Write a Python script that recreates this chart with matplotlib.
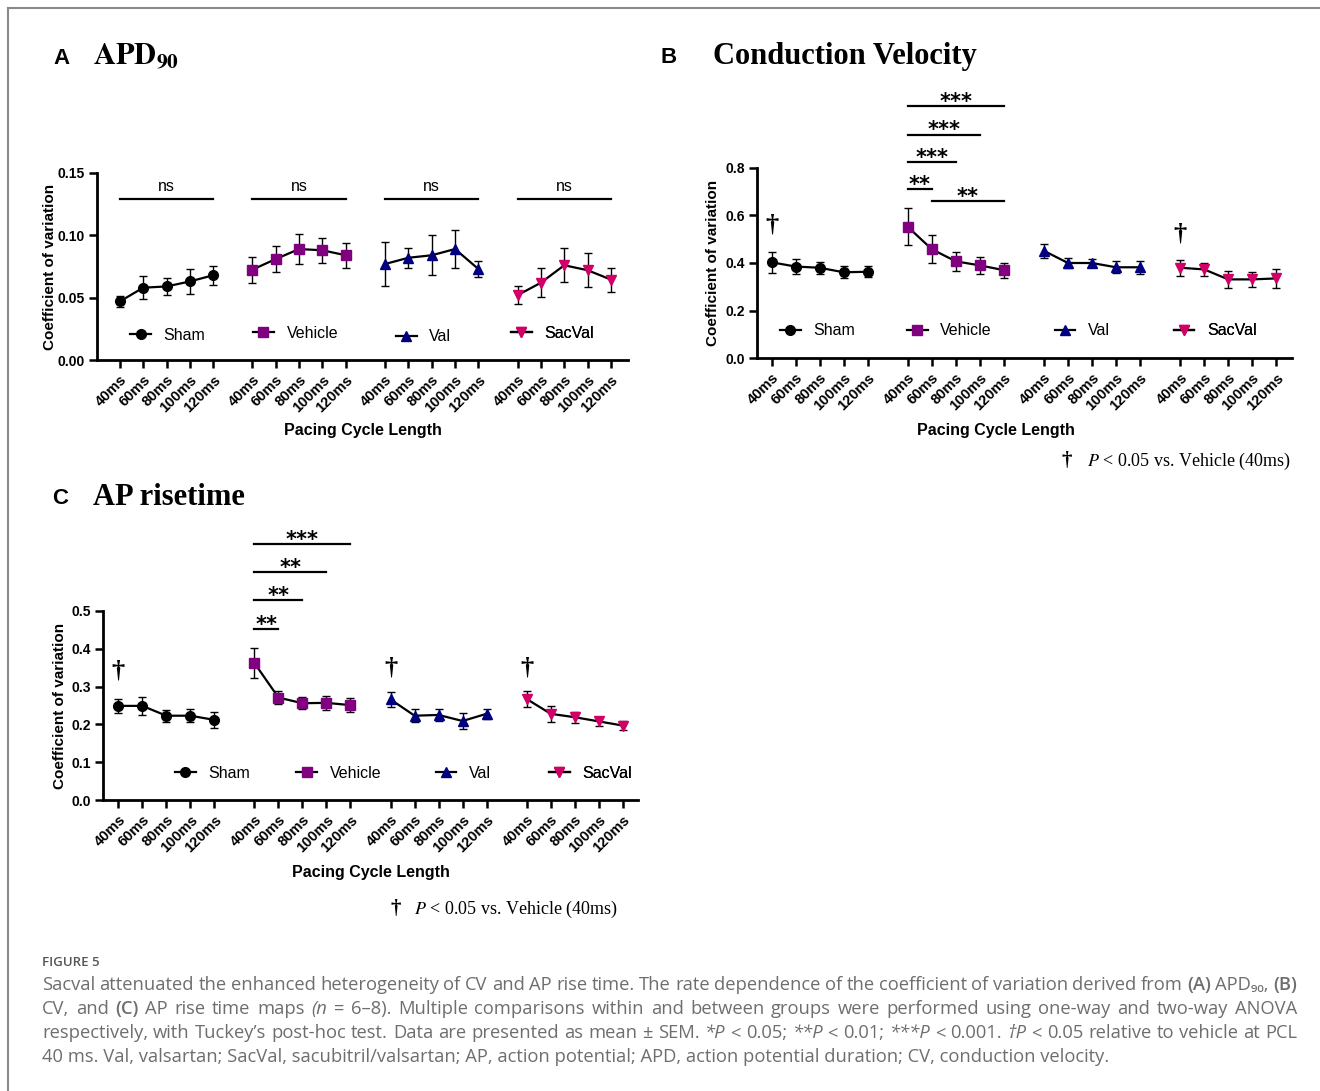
import numpy as np
import matplotlib
matplotlib.use('Agg')
import matplotlib.pyplot as plt
from matplotlib.lines import Line2D

plt.rcParams['font.family'] = ['Liberation Sans', 'DejaVu Sans']
plt.rcParams['mathtext.fontset'] = 'stix'

# data (coefficient of variation, mean and SEM)
pcl = ['40ms', '60ms', '80ms', '100ms', '120ms']
groups = ['Sham', 'Vehicle', 'Val', 'SacVal']
colors = ['black', '#800080', '#000080', '#d10068']
markers = ['o', 's', '^', 'v']

apd_mean = [[0.047, 0.058, 0.059, 0.063, 0.068],
            [0.0725, 0.081, 0.089, 0.088, 0.084],
            [0.077, 0.082, 0.084, 0.089, 0.073],
            [0.052, 0.062, 0.076, 0.072, 0.0645]]
apd_sem = [[0.0045, 0.009, 0.007, 0.010, 0.0075],
           [0.0105, 0.0108, 0.0117, 0.010, 0.010],
           [0.018, 0.008, 0.016, 0.015, 0.0064],
           [0.007, 0.0115, 0.0136, 0.0137, 0.0096]]

cv_mean = [[0.403, 0.385, 0.380, 0.361, 0.363],
           [0.552, 0.458, 0.407, 0.390, 0.370],
           [0.451, 0.400, 0.400, 0.382, 0.382],
           [0.380, 0.373, 0.331, 0.331, 0.335]]
cv_sem = [[0.045, 0.033, 0.026, 0.025, 0.024],
          [0.078, 0.060, 0.041, 0.037, 0.032],
          [0.030, 0.023, 0.018, 0.026, 0.028],
          [0.033, 0.027, 0.035, 0.033, 0.041]]

rt_mean = [[0.249, 0.249, 0.223, 0.223, 0.212],
           [0.362, 0.271, 0.256, 0.257, 0.251],
           [0.266, 0.223, 0.225, 0.209, 0.228],
           [0.267, 0.228, 0.219, 0.208, 0.197]]
rt_sem = [[0.019, 0.024, 0.016, 0.017, 0.021],
          [0.040, 0.017, 0.016, 0.018, 0.018],
          [0.019, 0.017, 0.015, 0.020, 0.013],
          [0.022, 0.022, 0.015, 0.012, 0.013]]

# significance brackets: (group, from pcl, to pcl, height, label)
apd_sig = [(g, 0, 4, 0.129, 'ns') for g in range(4)]
cv_sig = [(1, 0, 4, 1.06, '***'), (1, 0, 3, 0.941, '***'), (1, 0, 2, 0.824, '***'),
          (1, 0, 1, 0.711, '**'), (1, 1, 4, 0.659, '**')]
rt_sig = [(1, 0, 4, 0.676, '***'), (1, 0, 3, 0.602, '**'), (1, 0, 2, 0.528, '**'),
          (1, 0, 1, 0.452, '**')]
cv_dagger = [(0, 0.56), (3, 0.52)]
rt_dagger = [(0, 0.34), (2, 0.35), (3, 0.35)]

GAP = 5.68
W, H = 1320, 1091


def xpos(g, i):
    return g * GAP + i


def fx(px):
    return px / W


def fy(py):
    return 1 - py / H


def panel(ax, mean, sem, ylim, yticks, fmt, xlim, sig, daggers, leg_pos):
    for g in range(4):
        xs = [xpos(g, i) for i in range(5)]
        ax.errorbar(xs, mean[g], yerr=sem[g], color='black', lw=1.6, elinewidth=1,
                    capsize=3, capthick=1, marker=markers[g], mfc=colors[g],
                    mec=colors[g], ms=7, zorder=3)
    ax.set_xlim(*xlim)
    ax.set_ylim(*ylim)
    ax.set_yticks(yticks)
    ax.set_yticklabels([fmt.format(v) for v in yticks], fontsize=10, fontweight='bold')
    ax.set_xticks([xpos(g, i) for g in range(4) for i in range(5)])
    ax.set_xticklabels(pcl * 4, rotation=45, ha='right', rotation_mode='anchor',
                       fontsize=10.5, fontweight='bold')
    ax.tick_params(axis='both', length=6, width=1.8, pad=3)
    ax.spines[['top', 'right']].set_visible(False)
    ax.spines[['left', 'bottom']].set_linewidth(2)
    for g, i0, i1, y, lab in sig:
        ax.plot([xpos(g, i0), xpos(g, i1)], [y, y], color='black', lw=1.6, clip_on=False)
        xc = (xpos(g, i0) + xpos(g, i1)) / 2
        if '*' in lab:
            ax.annotate(lab, (xc, y), xytext=(0, -1), textcoords='offset points',
                        ha='center', va='baseline', fontsize=15, fontweight='bold',
                        family='DejaVu Sans', annotation_clip=False)
        else:
            ax.annotate(lab, (xc, y), xytext=(0, 6), textcoords='offset points',
                        ha='center', va='baseline', fontsize=11.5,
                        annotation_clip=False)
    for g, y in daggers:
        ax.text(xpos(g, 0), y, '†', ha='center', va='center', fontsize=19,
                fontweight='bold', family='Liberation Serif')
    for g in range(4):
        mi, ly = leg_pos[g]
        h = Line2D([], [], color='black', lw=1.6, marker=markers[g], mfc=colors[g],
                   mec=colors[g], ms=7)
        leg = ax.legend([h], [groups[g]], loc='center left',
                        bbox_to_anchor=(xpos(g, mi) - 0.44, ly),
                        bbox_transform=ax.transData, frameon=False, borderpad=0,
                        borderaxespad=0, handlelength=1.3, handletextpad=0.8,
                        fontsize=11.5)
        ax.add_artist(leg)
    ax.set_ylabel('Coefficient of variation', fontsize=11, fontweight='bold')
    ax.set_xlabel('Pacing Cycle Length', fontsize=11.5, fontweight='bold')
    ax.yaxis.label.set_va('center')
    ax.xaxis.label.set_va('center')


fig = plt.figure(figsize=(13.2, 10.91), dpi=100)

axA = fig.add_axes([fx(97), fy(360), 531 / W, 187 / H])
panel(axA, apd_mean, apd_sem, (0, 0.15), [0, 0.05, 0.10, 0.15], '{:.2f}',
      (-0.98, xpos(3, 4) + 0.73), apd_sig, [],
      [(0.88, 0.020), (0.46, 0.0212), (0.9, 0.0186), (0.15, 0.0212)])
axA.yaxis.set_label_coords((50 - 97) / 531, 0.5)
axA.xaxis.set_label_coords((363 - 97) / 531, (360 - 431) / 187)

axB = fig.add_axes([fx(757), fy(358), 535 / W, 190 / H])
panel(axB, cv_mean, cv_sem, (0, 0.8), [0, 0.2, 0.4, 0.6, 0.8], '{:.1f}',
      (-0.61, xpos(3, 4) + 0.66), cv_sig, cv_dagger,
      [(0.79, 0.114), (0.4, 0.114), (0.88, 0.114), (0.16, 0.114)])
axB.yaxis.set_label_coords((713 - 757) / 535, 0.5)
axB.xaxis.set_label_coords((996 - 757) / 535, (358 - 430) / 190)

axC = fig.add_axes([fx(103), fy(800), 535 / W, 189 / H])
panel(axC, rt_mean, rt_sem, (0, 0.5), [0, 0.1, 0.2, 0.3, 0.4, 0.5], '{:.1f}',
      (-0.64, xpos(3, 4) + 0.64), rt_sig, rt_dagger,
      [(2.8, 0.071), (2.19, 0.071), (2.32, 0.071), (1.36, 0.071)])
axC.yaxis.set_label_coords((60 - 103) / 535, 0.5)
axC.xaxis.set_label_coords((371 - 103) / 535, (800 - 872) / 189)

# panel titles
fig.text(fx(53), fy(64), 'A', fontsize=16, fontweight='bold', va='baseline')
fig.text(fx(93), fy(64), r'$\mathbf{APD_{90}}$', fontsize=22, va='baseline')
fig.text(fx(660), fy(63), 'B', fontsize=16, fontweight='bold', va='baseline')
fig.text(fx(713), fy(64), 'Conduction Velocity', fontsize=22, fontweight='bold',
         family='Liberation Serif', va='baseline')
fig.text(fx(52), fy(504), 'C', fontsize=16, fontweight='bold', va='baseline')
fig.text(fx(93), fy(505), 'AP risetime', fontsize=22, fontweight='bold',
         family='Liberation Serif', va='baseline')

# dagger notes
for dx, tx, ty in [(1067, 1087, 461), (396, 414, 909)]:
    fig.text(fx(dx), fy(ty), '†', fontsize=15, fontweight='bold',
             family='Liberation Serif', ha='center', va='center')
    fig.text(fx(tx), fy(ty), r'$P$ < 0.05 vs. Vehicle (40ms)', fontsize=13,
             family='Liberation Serif', va='center')

# frame of the figure page
fig.add_artist(Line2D([fx(8), 1], [fy(8), fy(8)], color='#8a8a8a', lw=1.5))
fig.add_artist(Line2D([fx(8), fx(8)], [fy(8), 0], color='#8a8a8a', lw=1.5))

# caption
fig.text(fx(42), fy(962), 'FIGURE 5', fontsize=9.5, color='#555555',
         family='Open Sans', fontweight='semibold', va='center')
cap_lines = [
    'Sacval attenuated the enhanced heterogeneity of CV and AP rise time. The rate dependence '
    'of the coefficient of variation derived from (A) APD₉₀, (B)',
    'CV, and (C) AP rise time maps (n = 6–8). Multiple comparisons within and between groups '
    'were performed using one-way and two-way ANOVA',
    'respectively, with Tuckey’s post-hoc test. Data are presented as mean ± SEM. *P < 0.05; '
    '**P < 0.01; ***P < 0.001. †P < 0.05 relative to vehicle at PCL',
    '40 ms. Val, valsartan; SacVal, sacubitril/valsartan; AP, action potential; APD, action '
    'potential duration; CV, conduction velocity.',
]
cap_y = [985, 1009, 1033, 1057]
cap_color = '#6e6e6e'
cap_fam = ['Open Sans', 'DejaVu Sans']
renderer = fig.canvas.get_renderer()

probe = fig.text(0, 0, cap_lines[3], fontsize=10, family=cap_fam)
cap_size = 10 * 1071 / probe.get_window_extent(renderer=renderer).width
probe.remove()

for k, (line, y) in enumerate(zip(cap_lines, cap_y)):
    if k == 3:
        fig.text(fx(42), fy(y), line, fontsize=cap_size, family=cap_fam,
                 color=cap_color, va='center')
        continue
    texts = []
    for w in line.split(' '):
        style = 'italic' if w in ('*P', '**P', '***P', '†P', '(n') else 'normal'
        weight = 'semibold' if w.rstrip(',') in ('(A)', '(B)', '(C)') else 'normal'
        texts.append(fig.text(fx(42), fy(y), w, fontsize=cap_size, family=cap_fam,
                              color=cap_color, va='center', style=style,
                              fontweight=weight))
    widths = [t.get_window_extent(renderer=renderer).width for t in texts]
    gap = (1297 - 42 - sum(widths)) / (len(texts) - 1)
    x = 42
    for t, w in zip(texts, widths):
        t.set_x(fx(x))
        x += w + gap

fig.savefig('out.png', dpi=100, facecolor='white')
